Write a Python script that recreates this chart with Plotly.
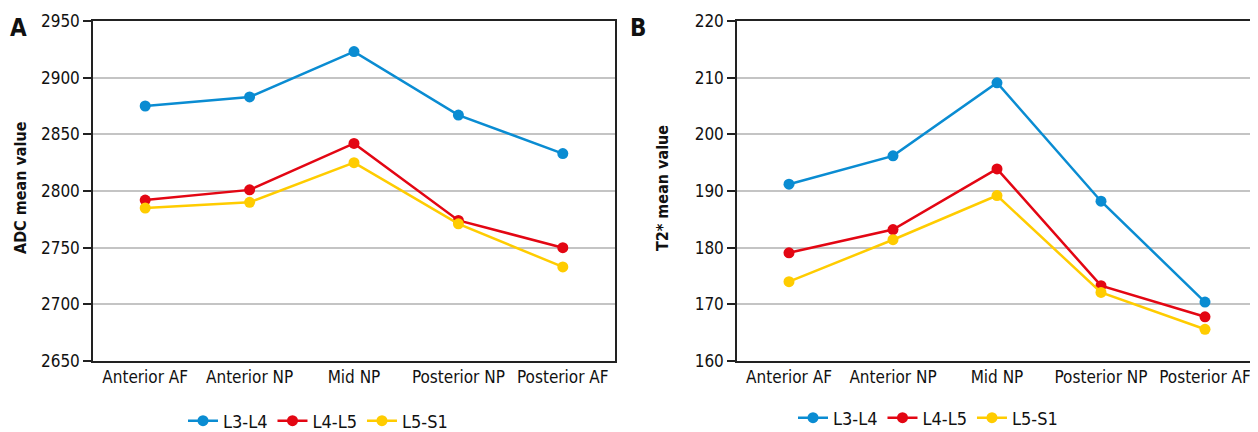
import plotly.graph_objects as go

categories = ["Anterior AF", "Anterior NP", "Mid NP", "Posterior NP", "Posterior AF"]
series_names = ["L3-L4", "L4-L5", "L5-S1"]

adc_l3l4 = [2875, 2883, 2923, 2867, 2833]
adc_l4l5 = [2792, 2801, 2842, 2774, 2750]
adc_l5s1 = [2785, 2790, 2825, 2771, 2733]

t2_l3l4 = [191.2, 196.2, 209.1, 188.2, 170.4]
t2_l4l5 = [179.1, 183.2, 193.9, 173.3, 167.8]
t2_l5s1 = [174.0, 181.4, 189.2, 172.1, 165.6]

adc_ticks = [2650, 2700, 2750, 2800, 2850, 2900, 2950]
t2_ticks = [160, 170, 180, 190, 200, 210, 220]

colors = ["#0A8CD2", "#E30613", "#FFCC00"]
FONT = "Liberation Sans Narrow, DejaVu Sans Condensed, Roboto, sans-serif"

# page body has an 8px margin; figure covers window pixels 8..1258 x 8..432
OFF = 8
W, H = 1258 - OFF, 432 - OFF


def px(x):
    return (x - OFF) / W


def py(y):
    return 1 - (y - OFF) / H


fig = go.Figure()

for name, vals, c in zip(series_names, [adc_l3l4, adc_l4l5, adc_l5s1], colors):
    fig.add_trace(go.Scatter(x=categories, y=vals, name=name, mode="lines+markers",
                             line=dict(color=c, width=2.5), marker=dict(color=c, size=11),
                             xaxis="x", yaxis="y", legend="legend", cliponaxis=False))
for name, vals, c in zip(series_names, [t2_l3l4, t2_l4l5, t2_l5s1], colors):
    fig.add_trace(go.Scatter(x=categories, y=vals, name=name, mode="lines+markers",
                             line=dict(color=c, width=2.5), marker=dict(color=c, size=11),
                             xaxis="x2", yaxis="y2", legend="legend2", cliponaxis=False))

yb, yt = py(361), py(21)
axcommon = dict(showline=True, linecolor="#222", linewidth=1.5, mirror=True, automargin=False,
                tickfont=dict(family=FONT, size=17, color="#111"), zeroline=False)
fig.update_layout(
    width=W, height=H, margin=dict(l=0, r=0, t=0, b=0, autoexpand=False),
    paper_bgcolor="white", plot_bgcolor="white",
    font=dict(family=FONT, color="#111"),
    xaxis=dict(domain=[px(93), px(615)], anchor="y", range=[-0.5, 4.5], showgrid=False,
               ticks="", ticklabelstandoff=0, **axcommon),
    yaxis=dict(domain=[yb, yt], anchor="x", range=[2650, 2950], tickvals=adc_ticks,
               showgrid=True, gridcolor="#C4C4C4", gridwidth=1.5, ticks="outside",
               ticklen=8, tickcolor="#222", tickwidth=1.5, **axcommon),
    xaxis2=dict(domain=[px(737), px(1257)], anchor="y2", range=[-0.5, 4.5], showgrid=False,
                ticks="", ticklabelstandoff=0, **axcommon),
    yaxis2=dict(domain=[yb, yt], anchor="x2", range=[160, 220], tickvals=t2_ticks,
                showgrid=True, gridcolor="#C4C4C4", gridwidth=1.5, ticks="outside",
                ticklen=8, tickcolor="#222", tickwidth=1.5, **axcommon),
    legend=dict(orientation="h", x=px(318), xanchor="center", y=py(421), yanchor="middle",
                font=dict(family=FONT, size=18), itemwidth=30, bgcolor="rgba(0,0,0,0)"),
    legend2=dict(orientation="h", x=px(928), xanchor="center", y=py(418), yanchor="middle",
                 font=dict(family=FONT, size=18), itemwidth=30, bgcolor="rgba(0,0,0,0)"),
    showlegend=True,
)

fig.add_annotation(text="<b>ADC mean value</b>", x=px(20), y=py(188), xref="paper", yref="paper",
                   textangle=-90, showarrow=False, font=dict(family=FONT, size=16),
                   xanchor="center", yanchor="middle")
fig.add_annotation(text="<b>T2* mean value</b>", x=px(662), y=py(188), xref="paper", yref="paper",
                   textangle=-90, showarrow=False, font=dict(family=FONT, size=16),
                   xanchor="center", yanchor="middle")
fig.add_annotation(text="<b>A</b>", x=px(18), y=py(28), xref="paper", yref="paper",
                   showarrow=False, font=dict(family=FONT, size=24), xanchor="center", yanchor="middle")
fig.add_annotation(text="<b>B</b>", x=px(638), y=py(28), xref="paper", yref="paper",
                   showarrow=False, font=dict(family=FONT, size=24), xanchor="center", yanchor="middle")

fig.write_html("out.html")
